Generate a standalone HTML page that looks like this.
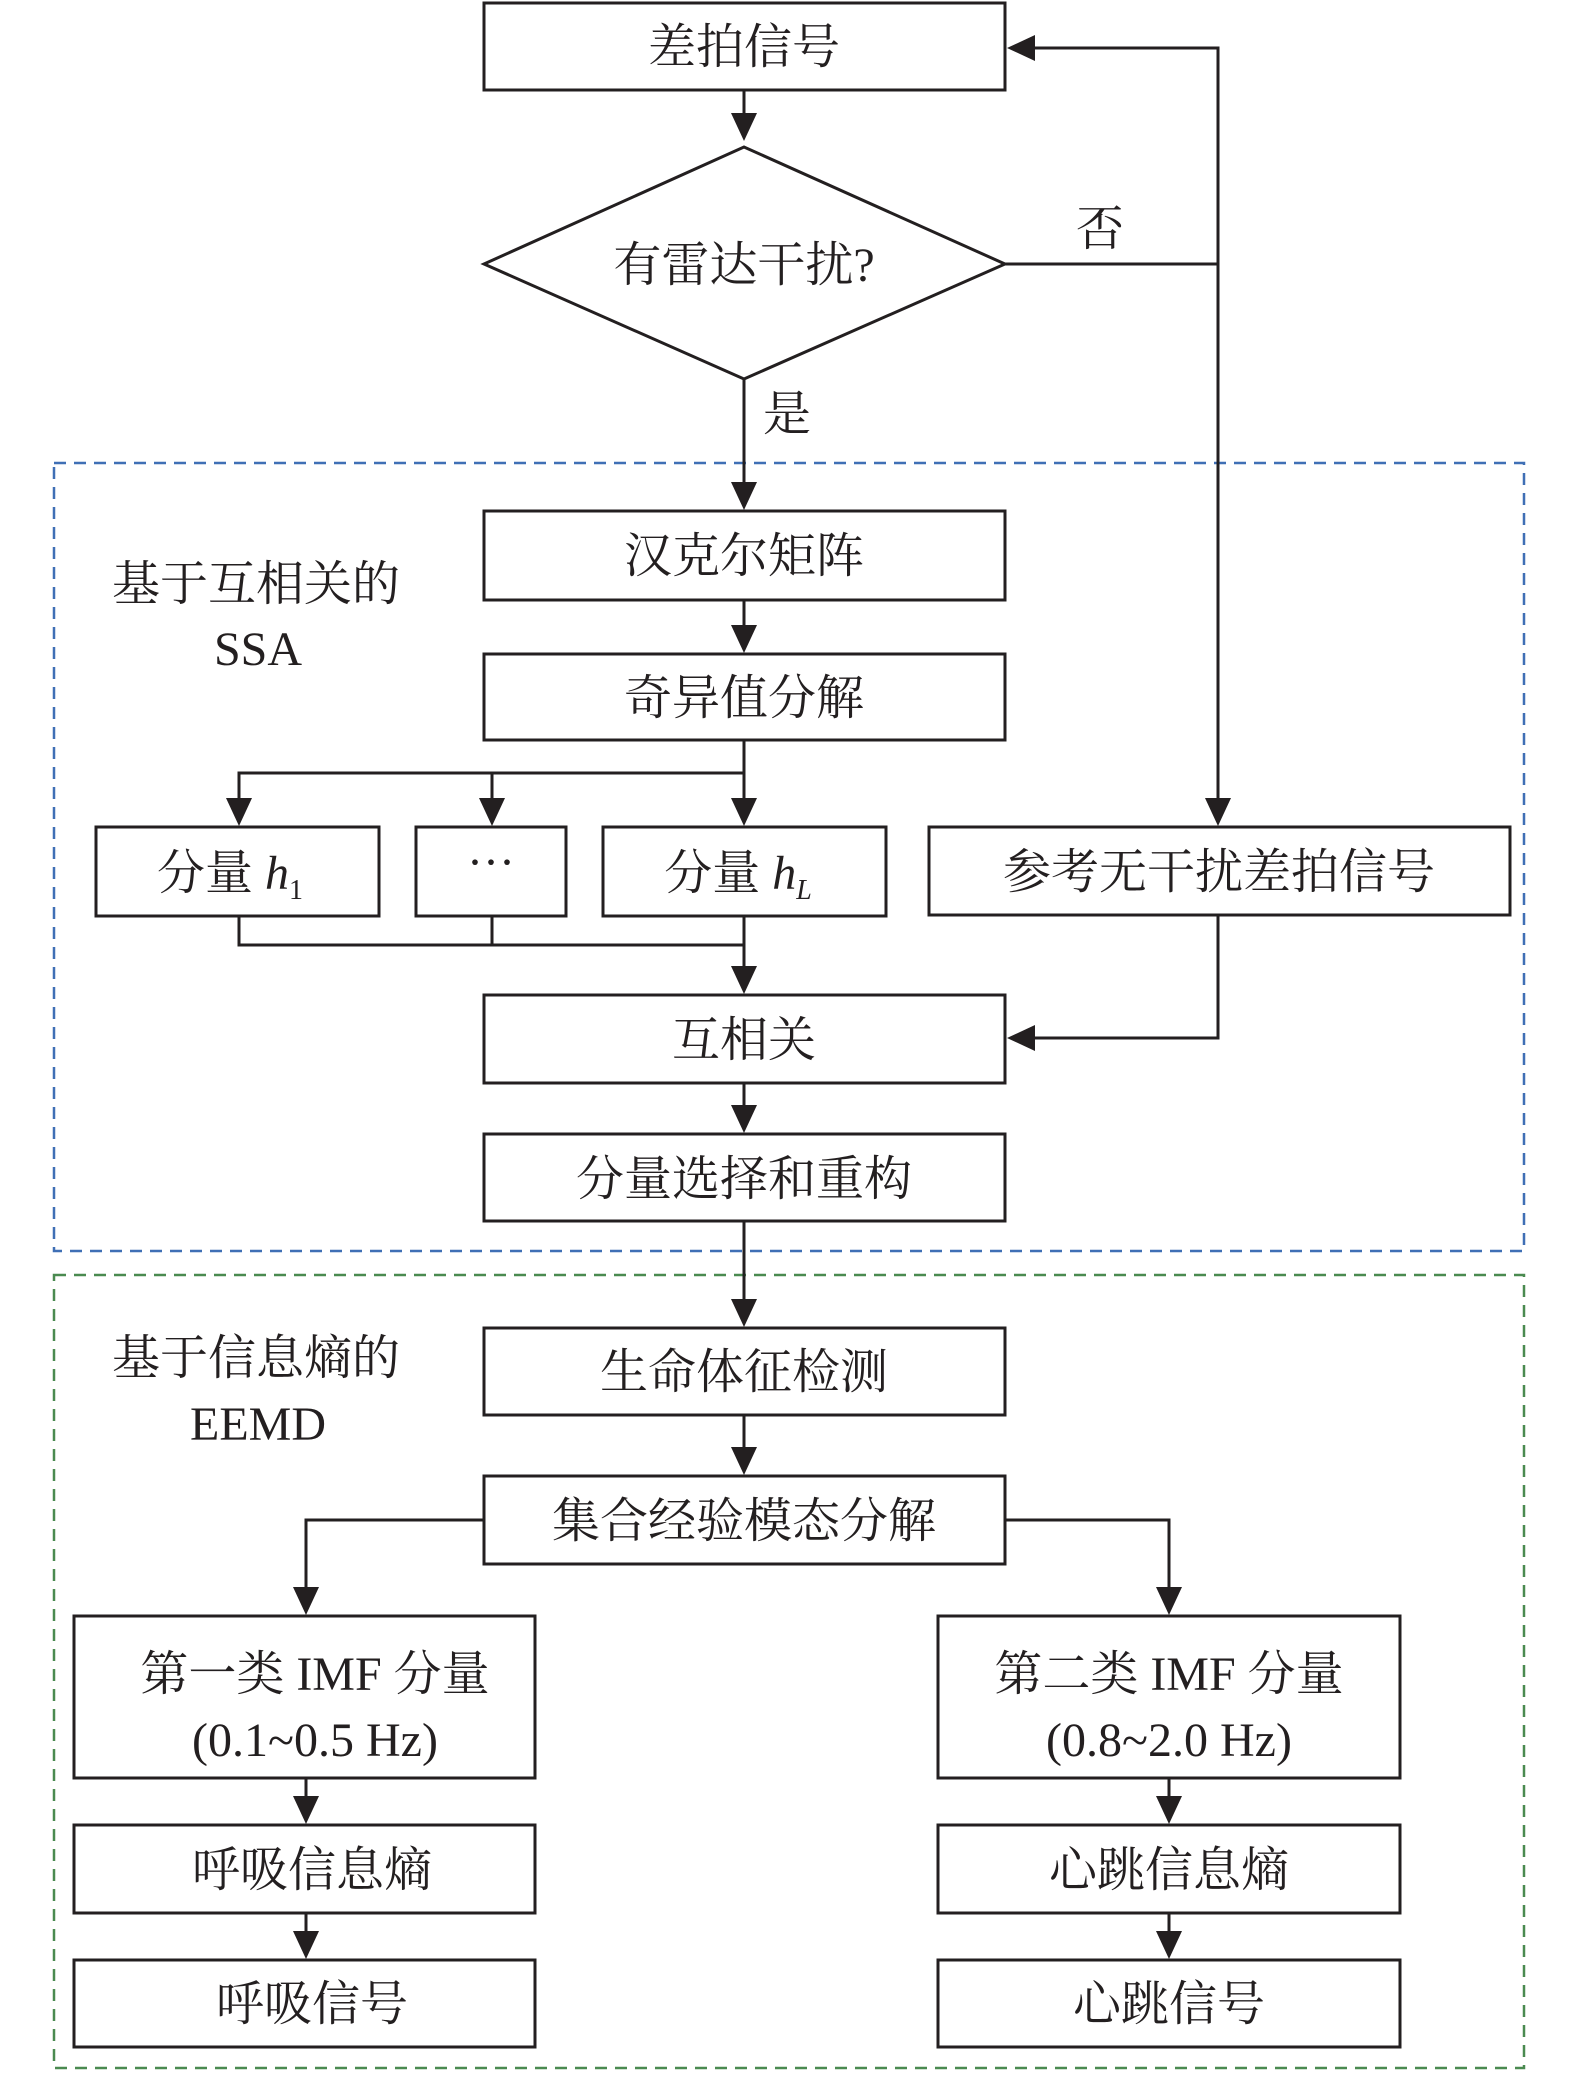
<!DOCTYPE html>
<html><head><meta charset="utf-8"><style>
html,body{margin:0;padding:0;background:#fff}
svg text{font-family:"Liberation Serif","Noto Serif CJK SC",serif;fill:#231f20}
</style></head><body>
<svg width="1575" height="2071" viewBox="0 0 1575 2071" xmlns="http://www.w3.org/2000/svg">
<defs>
<marker id="a" viewBox="0 0 10 10" refX="10" refY="5" markerWidth="10" markerHeight="10" markerUnits="userSpaceOnUse" orient="auto">
</marker>
</defs>
<g fill="none" stroke-width="2.5">
<rect x="54" y="463" width="1470" height="788" stroke="#3f6fb5" stroke-dasharray="12,8"/>
<rect x="54" y="1275" width="1470" height="793" stroke="#4a8a50" stroke-dasharray="12,8"/>
</g>
<g fill="#fff" stroke="#231f20" stroke-width="3">
<rect x="484" y="3" width="521" height="87"/>
<polygon points="484,264 744,147 1005,264 744,379"/>
<rect x="484" y="511" width="521" height="89"/>
<rect x="484" y="654" width="521" height="86"/>
<rect x="96" y="827" width="283" height="89"/>
<rect x="416" y="827" width="150" height="89"/>
<rect x="603" y="827" width="283" height="89"/>
<rect x="929" y="827" width="581" height="88"/>
<rect x="484" y="995" width="521" height="88"/>
<rect x="484" y="1134" width="521" height="87"/>
<rect x="484" y="1328" width="521" height="87"/>
<rect x="484" y="1476" width="521" height="88"/>
<rect x="74" y="1616" width="461" height="162"/>
<rect x="938" y="1616" width="462" height="162"/>
<rect x="74" y="1825" width="461" height="88"/>
<rect x="938" y="1825" width="462" height="88"/>
<rect x="74" y="1960" width="461" height="87"/>
<rect x="938" y="1960" width="462" height="87"/>
</g>
<g fill="none" stroke="#231f20" stroke-width="3">
<line x1="744" y1="90" x2="744" y2="125"/>
<line x1="744" y1="379" x2="744" y2="488"/>
<polyline points="1005,264 1218,264"/>
<polyline points="1218,800 1218,48 1035,48"/>
<line x1="744" y1="600" x2="744" y2="630"/>
<polyline points="744,740 744,773 239,773 239,805"/>
<line x1="492" y1="773" x2="492" y2="805"/>
<line x1="744" y1="773" x2="744" y2="805"/>
<polyline points="239,916 239,945 744,945"/>
<line x1="492" y1="916" x2="492" y2="945"/>
<line x1="744" y1="916" x2="744" y2="972"/>
<polyline points="1218,915 1218,1038 1030,1038"/>
<line x1="744" y1="1083" x2="744" y2="1110"/>
<line x1="744" y1="1221" x2="744" y2="1305"/>
<line x1="744" y1="1415" x2="744" y2="1452"/>
<polyline points="484,1520 306,1520 306,1592"/>
<polyline points="1005,1520 1169,1520 1169,1592"/>
<line x1="306" y1="1778" x2="306" y2="1802"/>
<line x1="306" y1="1913" x2="306" y2="1937"/>
<line x1="1169" y1="1778" x2="1169" y2="1802"/>
<line x1="1169" y1="1913" x2="1169" y2="1937"/>
</g>
<g fill="#231f20">
<polygon points="731,113 757,113 744,141"/>
<polygon points="731,482 757,482 744,510"/>
<polygon points="731,625 757,625 744,653"/>
<polygon points="226,798 252,798 239,826"/>
<polygon points="479,798 505,798 492,826"/>
<polygon points="731,798 757,798 744,826"/>
<polygon points="1205,798 1231,798 1218,826"/>
<polygon points="731,966 757,966 744,994"/>
<polygon points="731,1105 757,1105 744,1133"/>
<polygon points="731,1299 757,1299 744,1327"/>
<polygon points="731,1447 757,1447 744,1475"/>
<polygon points="293,1587 319,1587 306,1615"/>
<polygon points="1156,1587 1182,1587 1169,1615"/>
<polygon points="293,1796 319,1796 306,1824"/>
<polygon points="1156,1796 1182,1796 1169,1824"/>
<polygon points="293,1931 319,1931 306,1959"/>
<polygon points="1156,1931 1182,1931 1169,1959"/>
<polygon points="1007,48 1035,35 1035,61"/>
<polygon points="1007,1038 1035,1025 1035,1051"/>
</g>
<g font-size="48" text-anchor="middle">
<text x="744" y="63">差拍信号</text>
<text x="744" y="281">有雷达干扰?</text>
<text x="1100" y="245">否</text>
<text x="787" y="430">是</text>
<text x="744" y="572">汉克尔矩阵</text>
<text x="744" y="714">奇异值分解</text>
<text x="256" y="600">基于互相关的</text>
<text x="258" y="665">SSA</text>
<text x="230" y="889">分量 <tspan font-style="italic">h</tspan><tspan font-size="28" dy="10">1</tspan></text>
<text x="491" y="878">···</text>
<text x="738" y="889">分量 <tspan font-style="italic">h</tspan><tspan font-size="28" font-style="italic" dy="10">L</tspan></text>
<text x="1219" y="888">参考无干扰差拍信号</text>
<text x="744" y="1056">互相关</text>
<text x="744" y="1195">分量选择和重构</text>
<text x="744" y="1388">生命体征检测</text>
<text x="256" y="1374">基于信息熵的</text>
<text x="258" y="1440">EEMD</text>
<text x="744" y="1537">集合经验模态分解</text>
<text x="315" y="1690">第一类 IMF 分量</text>
<text x="315" y="1756">(0.1~0.5 Hz)</text>
<text x="1169" y="1690">第二类 IMF 分量</text>
<text x="1169" y="1756">(0.8~2.0 Hz)</text>
<text x="312" y="1886">呼吸信息熵</text>
<text x="1169" y="1886">心跳信息熵</text>
<text x="312" y="2020">呼吸信号</text>
<text x="1169" y="2020">心跳信号</text>
</g>
</svg>
</body></html>
